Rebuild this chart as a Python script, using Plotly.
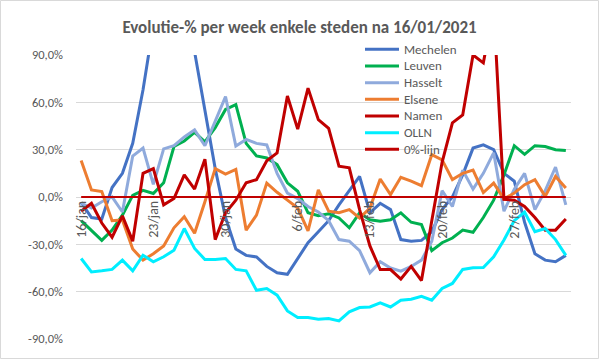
import pandas as pd
import plotly.graph_objects as go

# ---- data (values in %) ----
dates = pd.date_range("2021-01-16", "2021-03-04", freq="D")
tick_dates = list(dates[::7])
tick_labels = ["16/jan", "23/jan", "30/jan", "6/feb", "13/feb", "20/feb", "27/feb"]
y_ticks = [-90, -60, -30, 0, 30, 60, 90]
y_tick_labels = ["-90,0%", "-60,0%", "-30,0%", "0,0%", "30,0%", "60,0%", "90,0%"]

mechelen = [-3.4, -13, -14, 6, 15, 34, 68, 115, 150, 160, 130, 92, 56, 18, -13, -33,
            -37, -38, -44, -48, -49, -39, -29, -22, -15, -5, 4, 13, -10, -4, -8, -27,
            -28, -27.5, -22, -8, 0, 14, 31, 33, 30, 15, 10, -16, -36, -40, -41, -37]
leuven = [-15, -21, -27.5, -21, -11.5, 1, 4.2, 2.2, 9, 32, 35.5, 41, 35, 44, 55.5, 58.5,
          34, 26, 24.7, 20.5, 9, 3.6, -10, -11.8, -10.6, -13.3, -19.5, -10, -14.4, -15.4, -14.4, -10,
          -16, -17.5, -34, -29, -26, -21, -22.4, -13, -2, 14, 32.5, 27, 32.5, 32, 30, 29.4]
hasselt = [-3.8, -7, -3, 0, -9.5, 26, 31, 8, 30.5, 32.5, 38, 42.5, 32.5, 48, 63.6, 32.3,
           36.5, 34, 33, 15, 2.5, -1, -6, -9.5, -15, -27, -28, -34, -48, -41, -45, -47,
           -44, -40, -28, 4, -6, 17, 5, 15, 28, -9, 5, 15, -8, 4, 19, -5]
elsene = [23.2, 4.5, 3.5, -15, -14.5, -33, -40, -36, -31, -19.5, -12.5, -23, -3, 18, 14.5, 17.5,
          -21, -11.5, 8.8, 3, -2, -7, -21.5, 4.5, -9, -10, -8, -13.3, -7, 11.4, 1.5, 12.5,
          10, 7.2, 26.8, 23.5, 11, 15, 17, 2.8, 8.8, -1.2, 2.5, 7.8, 11, 0.4, 13, 5.7]
namen = [-9, -4, -16.5, -25.5, -12, -28, 15, 18, -5, -1, 14, 5, 24, -27, -10, -2,
         9, 11, 23, 28, 64, 43, 69, 49, 43.5, 19.5, 18.5, -8, -31, -46, -46, -52,
         -44, -53, -15, 22, 47, 52, 90, 85, 120, -1.5, -2, -6, -13, -21, -21, -14]
olln = [-39, -47.5, -46.8, -45.9, -40, -46.8, -36.9, -41.1, -37.9, -33.7, -20, -32.6, -39.6, -39.6, -39, -45.9,
        -46.8, -59.1, -58, -62.2, -72.2, -76.4, -76.4, -77.5, -77, -78.5, -72.8, -70.1, -69.7, -67.1, -69.7, -65.4,
        -64.8, -62.9, -65.4, -58, -54.8, -45.9, -44.9, -44.7, -37.9, -27.3, -15, -9.5, -22, -20, -27, -37]
nul_lijn = [0] * len(dates)

series_names = ["Mechelen", "Leuven", "Hasselt", "Elsene", "Namen", "OLLN", "0%-lijn"]
series_values = [mechelen, leuven, hasselt, elsene, namen, olln, nul_lijn]
series_colors = ["#4472C4", "#00B050", "#8FAADC", "#ED7D31", "#C00000", "#00EEFF", "#C00000"]
series_widths = [3, 3, 3, 3, 3, 3, 2]

FONT = "Carlito, Lato, sans-serif"
GREY = "#595959"

# plot-area geometry (pixels) used to place the custom legend
W, H = 599, 359
ML, MR, MT, MB = 76, 28, 55, 20
PW, PH = W - ML - MR, H - MT - MB


def px_to_paper(px, py):
    return (px - ML) / PW, (H - MB - py) / PH


fig = go.Figure()
for name, vals, color, w in zip(series_names, series_values, series_colors, series_widths):
    fig.add_trace(go.Scatter(x=dates, y=vals, mode="lines", name=name,
                             line=dict(color=color, width=w), showlegend=False,
                             hoverinfo="skip"))

# custom legend (swatch + text), transparent like the original
shapes = []
annotations = []
for k, (name, color) in enumerate(zip(series_names, series_colors)):
    py = 49.3 + 16.67 * k
    x0, yp = px_to_paper(365, py)
    x1, _ = px_to_paper(399, py)
    xt, _ = px_to_paper(402, py)
    shapes.append(dict(type="line", xref="paper", yref="paper", x0=x0, x1=x1, y0=yp, y1=yp,
                       line=dict(color=color, width=3)))
    annotations.append(dict(text=name, xref="paper", yref="paper", x=xt, y=yp,
                            xanchor="left", yanchor="middle", showarrow=False,
                            font=dict(family=FONT, size=13, color=GREY)))

# outer chart border
bx0, by0 = px_to_paper(0.5, 358.5)
bx1, by1 = px_to_paper(598.5, 0.5)
shapes.append(dict(type="rect", xref="paper", yref="paper", x0=bx0, x1=bx1, y0=by0, y1=by1,
                   line=dict(color="#D9D9D9", width=1), fillcolor="rgba(0,0,0,0)"))

fig.update_layout(
    width=W, height=H,
    margin=dict(l=ML, r=MR, t=MT, b=MB),
    paper_bgcolor="white", plot_bgcolor="white",
    title=dict(text="<b>Evolutie-% per week enkele steden na 16/01/2021</b>",
               x=0.5, xref="container", xanchor="center",
               y=1 - 27 / H, yref="container", yanchor="middle",
               font=dict(family=FONT, size=17, color=GREY)),
    showlegend=False,
    xaxis=dict(type="date", range=["2021-01-15 12:00", "2021-03-04 12:00"],
               tickvals=tick_dates, ticktext=tick_labels, tickangle=-90,
               anchor="free", position=0.5, showgrid=False, zeroline=False,
               showline=False, ticks="", automargin=False,
               tickfont=dict(family=FONT, size=14, color=GREY)),
    yaxis=dict(range=[-90, 90], tickvals=y_ticks, ticktext=y_tick_labels,
               showgrid=True, gridcolor="#D9D9D9", gridwidth=1, zeroline=False,
               showline=False, ticks="", automargin=False, ticklabelstandoff=12,
               tickfont=dict(family=FONT, size=12.5, color=GREY)),
    shapes=shapes,
    annotations=annotations,
)

fig.write_html("out.html", config={"displayModeBar": False},
               post_script="document.body.style.margin='0px';")
